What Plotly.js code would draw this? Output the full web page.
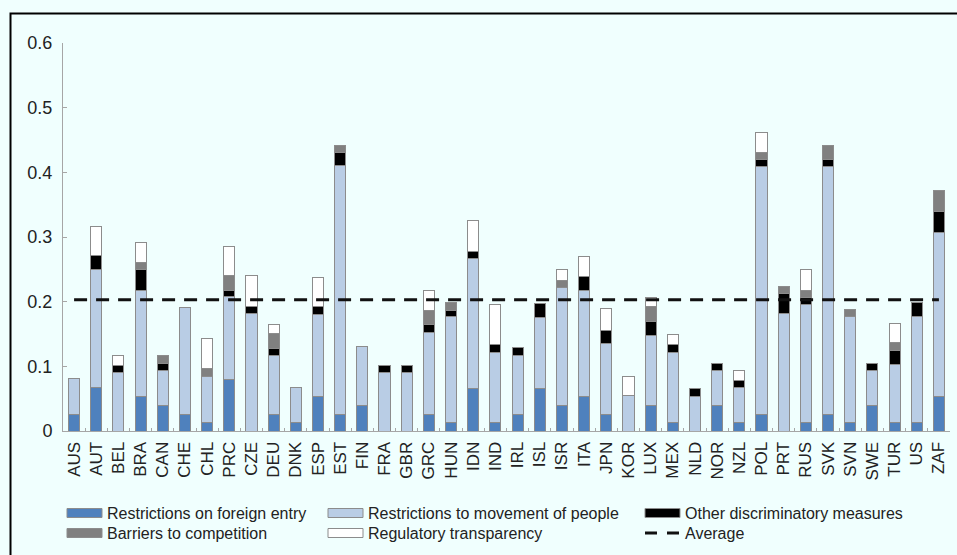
<!DOCTYPE html>
<html>
<head>
<meta charset="utf-8">
<script src="https://cdn.plot.ly/plotly-3.0.1.min.js"></script>
<style>
html,body{margin:0;padding:0;background:#F0FFFE;}
#chart{width:957px;height:555px;}
</style>
</head>
<body>
<div id="chart"></div>
<script>
var countries = ['AUS','AUT','BEL','BRA','CAN','CHE','CHL','PRC','CZE','DEU','DNK','ESP','EST','FIN','FRA','GBR','GRC','HUN','IDN','IND','IRL','ISL','ISR','ITA','JPN','KOR','LUX','MEX','NLD','NOR','NZL','POL','PRT','RUS','SVK','SVN','SWE','TUR','US','ZAF'];

var foreignEntry = [0.026,0.067,0,0.053,0.040,0.026,0.013,0.080,0,0.026,0.013,0.053,0.026,0.040,0,0,0.026,0.013,0.066,0.013,0.026,0.066,0.040,0.053,0.026,0,0.040,0.013,0,0.040,0.013,0.026,0,0.013,0.026,0.013,0.040,0.013,0.013,0.053];
var movementPeople = [0.055,0.182,0.090,0.164,0.054,0.165,0.072,0.128,0.182,0.091,0.055,0.127,0.384,0.091,0.090,0.090,0.127,0.164,0.200,0.109,0.091,0.109,0.182,0.164,0.109,0.055,0.108,0.109,0.054,0.054,0.054,0.383,0.182,0.182,0.383,0.164,0.054,0.090,0.164,0.254];
var otherDiscriminatory = [0,0.022,0.011,0.032,0.011,0,0,0.010,0.011,0.011,0,0.013,0.021,0,0.011,0.011,0.012,0.010,0.011,0.012,0.012,0.022,0,0.022,0.021,0,0.022,0.012,0.012,0.011,0.011,0.011,0.031,0.011,0.011,0,0.011,0.022,0.021,0.033];
var barriersCompetition = [0,0,0,0.012,0.011,0,0.012,0.023,0,0.023,0,0,0.010,0,0,0,0.021,0.011,0,0,0,0,0.011,0,0,0,0.022,0,0,0,0,0.011,0.011,0.011,0.021,0.011,0,0.012,0,0.032];
var regulatoryTransparency = [0,0.046,0.015,0.030,0,0,0.046,0.045,0.047,0.014,0,0.045,0,0,0,0,0.032,0,0.048,0.062,0,0,0.016,0.031,0.033,0.030,0.015,0.015,0,0,0.016,0.031,0,0.032,0,0,0,0.030,0,0];
var averageValue = 0.203;

var seriesNames = ['Restrictions on foreign entry','Restrictions to movement of people','Other discriminatory measures','Barriers to competition','Regulatory transparency'];
var averageName = 'Average';
var seriesColors = ['#4F81BD','#B9CDE5','#000000','#808080','#FFFFFF'];
var seriesValues = [foreignEntry, movementPeople, otherDiscriminatory, barriersCompetition, regulatoryTransparency];
var outlineColor = '#8C8C8C';

var traces = seriesValues.map(function(vals, i){
  return {
    type: 'bar',
    name: seriesNames[i],
    x: countries,
    y: vals,
    marker: {color: seriesColors[i], line: {color: outlineColor, width: 1}},
    showlegend: false
  };
});
traces.push({
  type: 'scatter',
  mode: 'lines',
  name: averageName,
  x: [countries[0], countries[countries.length-1]],
  y: [averageValue, averageValue],
  line: {color: '#111111', width: 3, dash: '13px,9px'},
  showlegend: false
});

var W = 957, H = 555, ML = 63, MR = 7, MT = 43, MB = 124;
var pw = W - ML - MR, ph = H - MT - MB;
function px2x(p){ return (p - ML) / pw; }
function py2y(p){ return (H - MB - p) / ph; }

var shapes = [{
  type: 'path', xref: 'paper', yref: 'paper',
  path: 'M' + px2x(10.5) + ',' + py2y(560) + ' L' + px2x(10.5) + ',' + py2y(13.5) + ' L' + px2x(960) + ',' + py2y(13.5),
  line: {color: '#000000', width: 2}
}];
var annotations = [];

// custom legend (layout only): order row-wise, 3 columns
var legendCols = [67, 328, 645];
var legendRows = [513, 533];
var legendItems = seriesNames.concat([averageName]);
legendItems.forEach(function(name, i){
  var cx = legendCols[i % 3], cy = legendRows[Math.floor(i / 3)];
  if (i < seriesNames.length) {
    shapes.push({
      type: 'rect', xref: 'paper', yref: 'paper',
      x0: px2x(cx), x1: px2x(cx + 35), y0: py2y(cy + 4.5), y1: py2y(cy - 4.5),
      fillcolor: seriesColors[i], line: {color: outlineColor, width: 1}
    });
  } else {
    shapes.push({
      type: 'line', xref: 'paper', yref: 'paper',
      x0: px2x(cx), x1: px2x(cx + 35), y0: py2y(cy), y1: py2y(cy),
      line: {color: '#111111', width: 3, dash: '12px,10px'}
    });
  }
  annotations.push({
    xref: 'paper', yref: 'paper',
    x: px2x(cx + 38), y: py2y(cy),
    xanchor: 'left', yanchor: 'middle',
    text: name, showarrow: false,
    font: {size: 16, color: '#222222'}
  });
});

var layout = {
  width: W, height: H,
  margin: {l: ML, r: MR, t: MT, b: MB, pad: 0},
  paper_bgcolor: '#F0FFFE',
  plot_bgcolor: '#F0FFFE',
  barmode: 'stack',
  bargap: 0.5,
  showlegend: false,
  font: {family: 'Liberation Sans, Arial, sans-serif', color: '#222222'},
  xaxis: {
    type: 'category',
    range: [-0.5, countries.length - 0.5],
    showline: true, linecolor: '#A6A6A6', linewidth: 1,
    ticks: 'inside', tickson: 'boundaries', ticklen: 3, tickcolor: '#A6A6A6',
    tickangle: -90,
    tickfont: {size: 17, color: '#222222'},
    ticklabelstandoff: 3,
    showgrid: false, zeroline: false,
    fixedrange: true
  },
  yaxis: {
    range: [0, 0.6],
    dtick: 0.1,
    showline: true, linecolor: '#A6A6A6', linewidth: 1,
    ticks: 'inside', ticklen: 4, tickcolor: '#A6A6A6',
    tickfont: {size: 18, color: '#222222'},
    ticklabelstandoff: 6,
    showgrid: false, zeroline: false,
    fixedrange: true
  },
  shapes: shapes,
  annotations: annotations
};

Plotly.newPlot('chart', traces, layout, {displayModeBar: false, staticPlot: true});
</script>
</body>
</html>
